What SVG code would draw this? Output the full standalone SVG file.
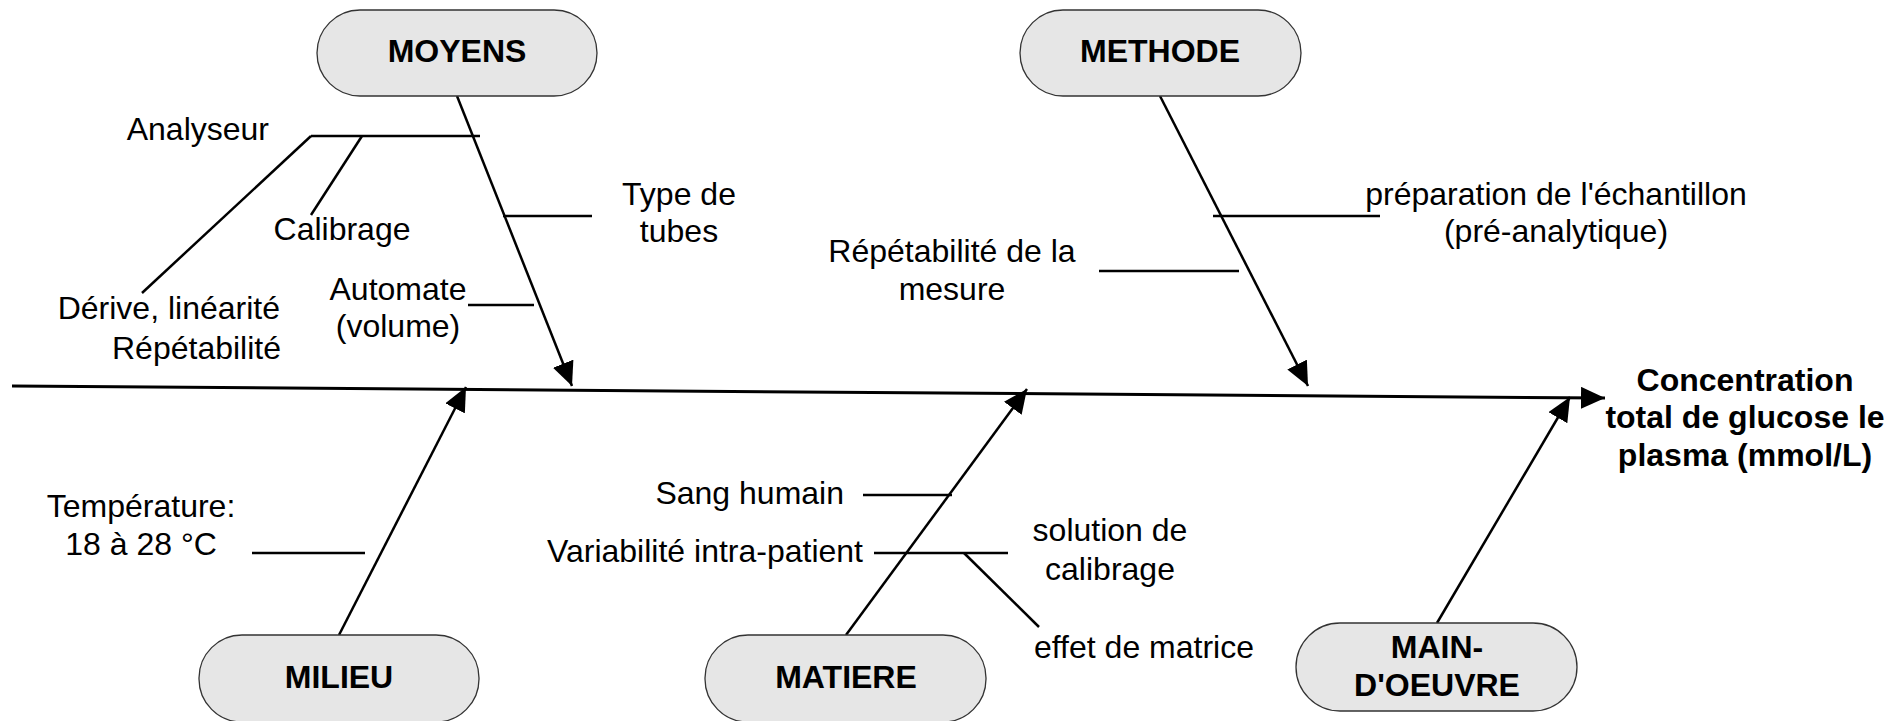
<svg xmlns="http://www.w3.org/2000/svg" width="1890" height="721" viewBox="0 0 1890 721">
  <style>
    .box { fill: #e6e6e6; stroke: #333333; stroke-width: 1.3; }
    .title { font-family: "Liberation Sans", Arial, sans-serif; font-size: 32px; font-weight: bold; fill: #000000; text-anchor: middle; }
    .lbl { font-family: "Liberation Sans", Arial, sans-serif; font-size: 32px; fill: #000000; }
    .mid { text-anchor: middle; }
    .end { text-anchor: end; }
    .spine { stroke: #000000; stroke-width: 3; fill: none; }
    .bone { stroke: #000000; stroke-width: 2.5; fill: none; }
    .twig { stroke: #000000; stroke-width: 2.5; fill: none; }
  </style>
  <defs>
    <marker id="arrow" markerUnits="userSpaceOnUse" markerWidth="26" markerHeight="22" refX="24" refY="11" orient="auto">
      <path d="M0,0 L24,11 L0,22 Z" fill="#000000"/>
    </marker>
  </defs>
  <rect width="1890" height="721" fill="#ffffff"/>

  <!-- Connectors: spine, category bones and sub-cause lines -->
  <g id="connectors">
    <line class="spine" x1="12" y1="386" x2="1605" y2="398" marker-end="url(#arrow)"/>
    <line class="bone" x1="457" y1="96" x2="572" y2="386" marker-end="url(#arrow)"/>
    <line class="bone" x1="1160" y1="96" x2="1308" y2="386" marker-end="url(#arrow)"/>
    <line class="bone" x1="339" y1="635" x2="466" y2="387" marker-end="url(#arrow)"/>
    <line class="bone" x1="846" y1="635" x2="1027" y2="389" marker-end="url(#arrow)"/>
    <line class="bone" x1="1437" y1="623" x2="1570" y2="397" marker-end="url(#arrow)"/>

    <!-- MOYENS causes -->
    <line class="twig" x1="311" y1="136" x2="480" y2="136"/>
    <line class="twig" x1="311" y1="136" x2="142" y2="293"/>
    <line class="twig" x1="362" y1="136" x2="311" y2="215"/>
    <line class="twig" x1="503" y1="216" x2="592" y2="216"/>
    <line class="twig" x1="468" y1="305" x2="534" y2="305"/>

    <!-- METHODE causes -->
    <line class="twig" x1="1213" y1="216" x2="1380" y2="216"/>
    <line class="twig" x1="1099" y1="271" x2="1239" y2="271"/>

    <!-- MILIEU causes -->
    <line class="twig" x1="252" y1="553" x2="365" y2="553"/>

    <!-- MATIERE causes -->
    <line class="twig" x1="863" y1="495" x2="952" y2="495"/>
    <line class="twig" x1="874" y1="553" x2="1008" y2="553"/>
    <line class="twig" x1="964" y1="553" x2="1039" y2="627"/>
  </g>

  <g id="moyens">
    <rect class="box" x="317" y="10" width="280" height="86" rx="43"/>
    <text class="title" x="457" y="62">MOYENS</text>
  </g>
  <g id="methode">
    <rect class="box" x="1020" y="10" width="281" height="86" rx="43"/>
    <text class="title" x="1160" y="62">METHODE</text>
  </g>
  <g id="milieu">
    <rect class="box" x="199" y="635" width="280" height="87" rx="43"/>
    <text class="title" x="339" y="688">MILIEU</text>
  </g>
  <g id="matiere">
    <rect class="box" x="705" y="635" width="281" height="87" rx="43"/>
    <text class="title" x="846" y="688">MATIERE</text>
  </g>
  <g id="main-oeuvre">
    <rect class="box" x="1296" y="623" width="281" height="88" rx="44"/>
    <text class="title" x="1437" y="658">MAIN-</text>
    <text class="title" x="1437" y="696">D'OEUVRE</text>
  </g>
  <g id="effet">
    <text class="title" x="1745" y="391">Concentration</text>
    <text class="title" x="1745" y="428">total de glucose le</text>
    <text class="title" x="1745" y="466">plasma (mmol/L)</text>
  </g>

  <!-- Cause labels -->
  <g id="labels">
    <text class="lbl end" x="269" y="140">Analyseur</text>
    <text class="lbl mid" x="342" y="240">Calibrage</text>
    <text class="lbl end" x="280" y="319">Dérive, linéarité</text>
    <text class="lbl end" x="281" y="359">Répétabilité</text>
    <text class="lbl mid" x="679" y="205">Type de</text>
    <text class="lbl mid" x="679" y="242">tubes</text>
    <text class="lbl mid" x="398" y="300">Automate</text>
    <text class="lbl mid" x="398" y="337">(volume)</text>
    <text class="lbl mid" x="1556" y="205">préparation de l'échantillon</text>
    <text class="lbl mid" x="1556" y="242">(pré-analytique)</text>
    <text class="lbl mid" x="952" y="262">Répétabilité de la</text>
    <text class="lbl mid" x="952" y="300">mesure</text>
    <text class="lbl mid" x="141" y="517">Température:</text>
    <text class="lbl mid" x="141" y="555">18 à 28 °C</text>
    <text class="lbl end" x="844" y="504">Sang humain</text>
    <text class="lbl end" x="863" y="562">Variabilité intra-patient</text>
    <text class="lbl mid" x="1110" y="541">solution de</text>
    <text class="lbl mid" x="1110" y="580">calibrage</text>
    <text class="lbl" x="1034" y="658">effet de matrice</text>
  </g>
</svg>
